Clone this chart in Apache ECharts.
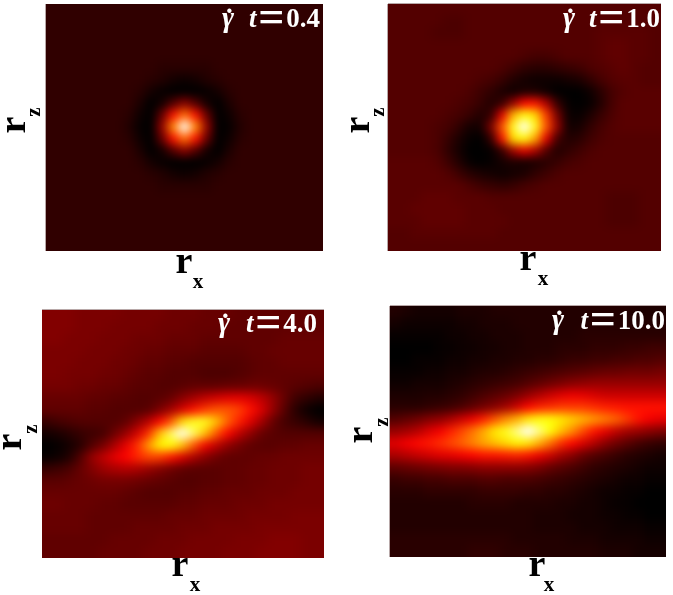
<!DOCTYPE html>
<html><head><meta charset="utf-8">
<style>
html,body{margin:0;padding:0;background:#fff;width:673px;height:595px;overflow:hidden}
.w{position:absolute;overflow:hidden}
.c{position:absolute;filter:blur(5px);transform-origin:0 0}
#t{position:absolute;left:0;top:0;width:673px;height:595px;z-index:5}
</style>
<script src="https://cdn.jsdelivr.net/npm/echarts@6/dist/echarts.min.js"></script>
</head><body>
<div id="t"></div>
<script>
const timeLabels = ['0.4','1.0','4.0','10.0'];
const axisLetter = 'r';
const xSub = 'x';
const zSub = 'z';
const rowsA = [
[7,7,7,7,7,7,7,7,7,7,7,7,7,7,7,7,7,7,7,7,7,7,7,7,7],
[7,7,7,7,7,7,7,7,7,7,7,7,7,7,7,7,7,7,7,7,7,7,7,7,7],
[7,7,7,7,7,7,7,7,7,7,7,7,7,7,7,7,7,7,7,7,7,7,7,7,7],
[7,7,7,7,7,7,7,7,7,7,7,7,7,7,7,7,7,7,7,7,7,7,7,7,7],
[7,7,7,7,7,7,7,7,7,7,7,7,7,7,7,7,7,7,7,7,7,7,7,7,7],
[7,7,7,7,7,7,7,7,7,7,6,6,6,6,6,7,7,7,7,7,7,7,7,7,7],
[7,7,7,7,7,7,7,7,7,6,5,3,2,3,5,6,7,7,7,7,7,7,7,7,7],
[7,7,7,7,7,7,7,7,6,3,1,0,0,0,1,3,6,7,7,7,7,7,7,7,7],
[7,7,7,7,7,7,7,7,4,0,3,12,20,12,3,0,4,7,7,7,7,7,7,7,7],
[7,7,7,7,7,7,7,6,2,0,15,40,54,40,15,0,2,6,7,7,7,7,7,7,7],
[7,7,7,7,7,7,7,5,1,0,22,58,100,58,22,0,1,5,7,7,7,7,7,7,7],
[7,7,7,7,7,7,7,6,2,0,15,40,54,40,15,0,2,6,7,7,7,7,7,7,7],
[7,7,7,7,7,7,7,7,4,0,3,12,20,12,3,0,4,7,7,7,7,7,7,7,7],
[7,7,7,7,7,7,7,7,6,3,1,0,0,0,1,3,6,7,7,7,7,7,7,7,7],
[7,7,7,7,7,7,7,7,7,6,5,3,2,3,5,6,7,7,7,7,7,7,7,7,7],
[7,7,7,7,7,7,7,7,7,7,6,6,6,6,6,7,7,7,7,7,7,7,7,7,7],
[7,7,7,7,7,7,7,7,7,7,7,7,7,7,7,7,7,7,7,7,7,7,7,7,7],
[7,7,7,7,7,7,7,7,7,7,7,7,7,7,7,7,7,7,7,7,7,7,7,7,7],
[7,7,7,7,7,7,7,7,7,7,7,7,7,7,7,7,7,7,7,7,7,7,7,7,7],
[7,7,7,7,7,7,7,7,7,7,7,7,7,7,7,7,7,7,7,7,7,7,7,7,7],
[7,7,7,7,7,7,7,7,7,7,7,7,7,7,7,7,7,7,7,7,7,7,7,7,7]
];
const rowsB = [
[12,12,12,12,12,12,12,12,12,12,12,12,12,12,12,12,12,12,12,12,12,12,12,12,12],
[12,12,12,12,12,11,11,12,12,12,12,12,12,12,12,12,12,12,12,12,12,12,12,12,12],
[12,12,12,12,11,11,11,12,12,12,12,12,12,12,12,12,12,12,12,13,13,13,13,13,12],
[12,12,12,12,12,12,12,12,12,12,12,12,12,12,12,12,12,12,12,13,14,14,13,13,12],
[12,12,12,12,12,12,12,12,12,12,12,12,11,10,10,11,12,12,12,13,14,14,13,13,12],
[12,12,12,12,12,12,12,12,12,12,11,9,7,6,6,7,8,9,11,12,13,14,13,12,12],
[12,12,12,12,12,12,12,12,11,10,8,5,3,2,2,2,3,4,7,10,12,13,13,12,12],
[12,12,12,12,12,12,12,11,9,7,4,2,4,4,2,0,0,0,2,6,10,12,13,13,13],
[12,12,12,12,12,12,11,10,8,5,8,22,38,40,26,8,1,0,1,5,10,13,13,13,13],
[12,12,12,12,12,11,10,8,5,8,34,64,76,70,46,18,2,1,4,8,11,13,13,13,13],
[12,12,12,12,11,10,7,3,3,18,50,78,100,78,50,22,3,3,7,10,12,13,13,13,13],
[12,12,12,12,11,8,4,1,0,8,40,70,76,62,34,10,5,6,9,11,12,12,12,12,12],
[12,12,12,12,11,7,3,0,0,1,8,24,34,26,12,5,7,9,11,12,12,12,12,12,12],
[13,13,13,13,12,9,5,1,0,1,3,4,3,4,6,8,10,11,12,12,12,12,12,12,12],
[13,13,13,13,13,12,9,6,4,3,2,3,4,7,9,11,12,12,12,12,12,12,12,12,12],
[13,13,13,13,13,13,13,11,9,8,7,8,10,11,12,12,12,12,12,12,12,12,12,12,12],
[13,13,13,14,14,14,13,13,13,12,12,12,12,12,12,12,12,12,12,12,11,11,11,12,12],
[13,13,14,14,14,14,14,13,13,13,12,12,12,12,12,12,12,12,12,12,11,11,11,12,12],
[13,13,13,14,14,14,14,13,13,13,13,12,12,12,12,12,12,12,12,12,11,11,11,12,12],
[12,12,13,13,13,13,13,13,13,13,12,12,12,12,12,12,12,12,12,12,12,12,12,12,12],
[12,12,12,12,12,12,12,12,12,12,12,12,12,12,12,12,12,12,12,12,12,12,12,12,12]
];
const rowsC = [
[19,19,19,18,18,18,18,17,17,17,17,16,16,16,15,15,15,14,14,14,14,14,14,14,14],
[19,19,19,18,18,18,17,17,17,17,16,16,16,15,15,15,14,14,14,14,14,14,14,14,14],
[19,19,18,18,18,17,17,17,16,16,16,15,15,15,14,14,14,14,14,14,14,15,15,15,15],
[18,18,18,18,17,17,17,16,16,15,15,14,14,14,13,13,13,13,14,14,15,15,15,15,15],
[18,18,18,17,17,17,16,16,15,14,14,13,13,12,12,12,12,12,13,14,14,15,15,15,15],
[18,18,17,17,17,16,16,15,14,13,13,12,12,12,11,11,11,12,13,14,14,14,14,14,14],
[17,17,17,16,16,15,15,14,13,13,12,12,13,14,14,14,15,15,16,16,15,14,13,12,11],
[15,15,15,15,14,14,13,13,12,12,13,15,20,24,28,31,33,34,32,28,22,15,9,7,5],
[14,14,14,14,13,13,12,12,12,13,18,24,32,40,46,50,50,47,40,32,22,13,6,2,0],
[8,10,11,12,12,12,12,14,20,27,38,50,70,78,78,66,52,42,33,24,15,10,8,6,3],
[3,4,6,8,9,10,16,22,31,44,66,84,100,84,66,50,38,28,21,15,13,12,12,12,12],
[0,1,3,6,12,17,25,34,44,60,74,76,66,50,36,28,21,17,14,13,13,14,14,15,15],
[1,2,5,12,22,28,34,38,43,47,46,40,32,25,20,16,14,14,14,15,15,16,16,16,16],
[8,9,11,15,19,23,25,26,25,22,19,16,14,13,13,13,14,14,15,15,16,16,16,17,17],
[13,13,14,15,16,17,17,17,16,15,14,13,12,12,13,13,14,14,15,15,16,16,16,17,17],
[15,15,15,15,15,15,15,14,13,12,12,12,13,13,14,14,15,15,15,16,16,16,17,17,17],
[16,16,15,15,15,14,14,13,13,13,13,13,14,14,15,15,15,16,16,16,17,17,17,17,17],
[15,15,15,15,14,14,14,14,14,14,14,15,15,15,16,16,16,16,17,17,17,17,18,18,18],
[15,15,15,15,14,14,14,14,15,15,15,15,16,16,16,17,17,17,17,18,18,18,18,18,18],
[14,14,14,14,14,14,15,15,15,15,16,16,16,17,17,17,17,18,18,18,19,19,19,18,18],
[14,14,14,14,14,15,15,15,15,16,16,16,17,17,17,17,18,18,18,19,19,19,19,18,18]
];
const rowsD = [
[5,4,3,3,3,3,4,4,4,5,5,5,5,5,5,5,5,5,5,5,5,5,4,4,4],
[3,2,2,2,2,2,3,3,4,4,4,5,5,5,5,5,5,5,5,5,5,5,5,5,5],
[1,1,1,1,1,2,2,3,3,4,4,4,5,5,5,5,5,6,6,6,6,6,6,6,6],
[0,0,0,0,1,1,2,2,3,3,4,4,5,5,5,6,6,6,7,7,7,8,8,9,9],
[0,0,1,1,1,2,2,3,3,4,4,5,5,6,6,7,8,8,9,9,10,10,11,11,12],
[1,1,1,2,2,3,3,4,5,5,6,7,8,9,10,11,12,13,14,15,15,16,16,16,17],
[2,2,3,3,3,4,5,6,7,8,9,10,12,14,16,18,20,21,22,22,22,22,22,22,22],
[4,4,4,5,5,6,7,9,11,13,15,18,22,26,30,33,35,34,32,30,30,30,30,30,30],
[6,6,6,7,8,9,11,14,17,20,24,30,38,42,44,46,46,46,44,42,41,40,40,40,40],
[12,14,16,19,21,25,30,35,42,50,58,64,72,76,76,72,68,64,60,56,52,46,40,36,34],
[22,24,27,32,36,42,48,55,63,72,78,88,100,88,76,66,58,48,40,34,28,24,22,20,18],
[33,36,39,41,44,48,52,57,62,66,70,74,72,64,54,44,38,32,26,20,16,13,10,8,7],
[25,27,29,31,33,34,36,38,40,40,41,42,40,35,30,24,20,15,12,10,8,6,5,4,3],
[14,15,16,17,18,19,19,20,21,21,21,21,20,18,15,13,11,9,7,6,5,4,3,2,2],
[8,9,9,10,10,11,11,11,12,12,11,11,11,10,9,8,7,6,5,4,3,2,2,1,1],
[6,6,6,7,7,7,7,7,8,8,8,8,7,7,6,6,5,4,3,2,2,1,1,0,0],
[5,5,5,5,5,5,5,6,6,6,6,5,5,5,5,4,4,3,3,2,1,1,0,0,0],
[5,5,5,5,5,5,5,5,5,5,5,5,5,4,4,4,3,3,3,2,2,1,1,0,0],
[5,5,5,5,5,5,5,5,5,5,5,5,5,4,4,4,4,3,3,3,2,2,2,1,1],
[6,6,6,6,6,6,6,6,6,6,6,5,5,5,5,5,4,4,4,3,3,3,3,2,2],
[6,6,6,6,6,6,6,7,7,7,6,6,6,5,5,5,5,5,5,4,4,4,3,3,3]
];

const hot = ['#000000','#560000','#ab0000','#ff0000','#ff5500','#ffaa00','#ffff00','#ffff80','#ffffff'];
const panels = [
 {rows:rowsA,x:46,y:4,w:277,h:247,edges:'l',
  rX:[184,273],sX:[198,288],rZ:[25,125],sZ:[40,112],tR:320,tB:27,tL:222},
 {rows:rowsB,x:388,y:4,w:273,h:247,edges:'lt',
  rX:[528,270],sX:[543,285],rZ:[369,125],sZ:[384,112],tR:660,tB:27,tL:563},
 {rows:rowsC,x:42,y:310,w:282,h:248,edges:'t',
  rX:[180,576],sX:[195,591],rZ:[21,442],sZ:[37,429],tR:317,tB:332,tL:218},
 {rows:rowsD,x:390,y:306,w:276,h:251,edges:'lt',
  rX:[537,576],sX:[549,591],rZ:[372,435],sZ:[388,422],tR:665,tB:329,tL:552}
];
const PAD = 2, CELL_W = 11, CELL_H = 12;
const SERIF = '"Liberation Serif","DejaVu Serif",serif';

panels.forEach(p=>{
  const wrap=document.createElement('div');
  wrap.className='w';
  wrap.style.cssText=`left:${p.x}px;top:${p.y}px;width:${p.w}px;height:${p.h}px`;
  const nr=p.rows.length,nc=p.rows[0].length;
  const cw=p.w/nc,ch=p.h/nr;
  const div=document.createElement('div');
  div.className='c';
  const W=(nc+2*PAD)*CELL_W,H=(nr+2*PAD)*CELL_H;
  div.style.cssText=`left:${-PAD*cw}px;top:${-PAD*ch}px;width:${W}px;height:${H}px;transform:scale(${cw/CELL_W},${ch/CELL_H})`;
  wrap.appendChild(div);document.body.appendChild(wrap);
  const data=[];
  for(let r=-PAD;r<nr+PAD;r++)for(let c=-PAD;c<nc+PAD;c++){
    const rr=Math.max(0,Math.min(nr-1,r)),cc=Math.max(0,Math.min(nc-1,c));
    data.push([c+PAD,r+PAD,p.rows[rr][cc]]);
  }
  const xs=[];for(let i=0;i<nc+2*PAD;i++)xs.push(i);
  const ys=[];for(let i=0;i<nr+2*PAD;i++)ys.push(i);
  const chart=echarts.init(div,null,{width:W,height:H});
  chart.setOption({
    animation:false,
    grid:{left:0,right:0,top:0,bottom:0},
    xAxis:{type:'category',data:xs,show:false},
    yAxis:{type:'category',data:ys,show:false,inverse:true},
    visualMap:{show:false,min:0,max:100,inRange:{color:hot},calculable:false},
    series:[{type:'heatmap',data:data,progressive:0,emphasis:{disabled:true}}]
  });
});

const gr=[];
const BIG=38,SUB=21,TT=27,ASC=0.76;
panels.forEach((p,i)=>{
  const big={font:'bold '+BIG+'px '+SERIF,fill:'#000'};
  const sub={font:'bold '+SUB+'px '+SERIF,fill:'#000'};
  const st=(t,f)=>({text:t,...f,align:'center',verticalAlign:'top'});
  gr.push({type:'text',x:p.rX[0],y:p.rX[1]-ASC*BIG,style:st(axisLetter,big),silent:true});
  gr.push({type:'text',x:p.sX[0],y:p.sX[1]-ASC*SUB,style:st(xSub,sub),silent:true});
  gr.push({type:'text',x:p.rZ[0]-ASC*BIG,y:p.rZ[1],rotation:Math.PI/2,style:st(axisLetter,big),silent:true});
  gr.push({type:'text',x:p.sZ[0]-ASC*SUB,y:p.sZ[1],rotation:Math.PI/2,style:st(zSub,sub),silent:true});
  const by=p.tB-ASC*TT;
  gr.push({type:'text',x:p.tR,y:by,style:{
    text:'{g|t}{s| }{e|=}{s| }{v|'+timeLabels[i]+'}',
    align:'right',verticalAlign:'top',
    rich:{g:{font:'italic bold '+TT+'px '+SERIF,fill:'#fff'},
          s:{font:'bold 7px '+SERIF,fill:'#fff'},
          e:{font:'bold 46px '+SERIF,fill:'#fff',lineHeight:27},
          v:{font:'bold '+TT+'px '+SERIF,fill:'#fff'}}
  },silent:true});
  gr.push({type:'text',x:p.tL,y:by-1,style:{text:'\u03b3',font:'italic bold 29px '+SERIF,fill:'#fff',align:'left',verticalAlign:'top'},silent:true});
  gr.push({type:'text',x:p.tL+4,y:by-14,style:{text:'.',font:'bold '+TT+'px '+SERIF,fill:'#fff',align:'left',verticalAlign:'top'},silent:true});
  const line=(x1,y1,x2,y2)=>gr.push({type:'line',shape:{x1,y1,x2,y2},style:{stroke:'#b8a8a8',lineWidth:1},silent:true});
  if(p.edges.includes('l'))line(p.x-0.5,p.y,p.x-0.5,p.y+p.h);
  if(p.edges.includes('t'))line(p.x,p.y-0.5,p.x+p.w,p.y-0.5);
});
const overlay=echarts.init(document.getElementById('t'),null,{width:673,height:595});
overlay.setOption({animation:false,graphic:{elements:gr}});
</script>
</body></html>
